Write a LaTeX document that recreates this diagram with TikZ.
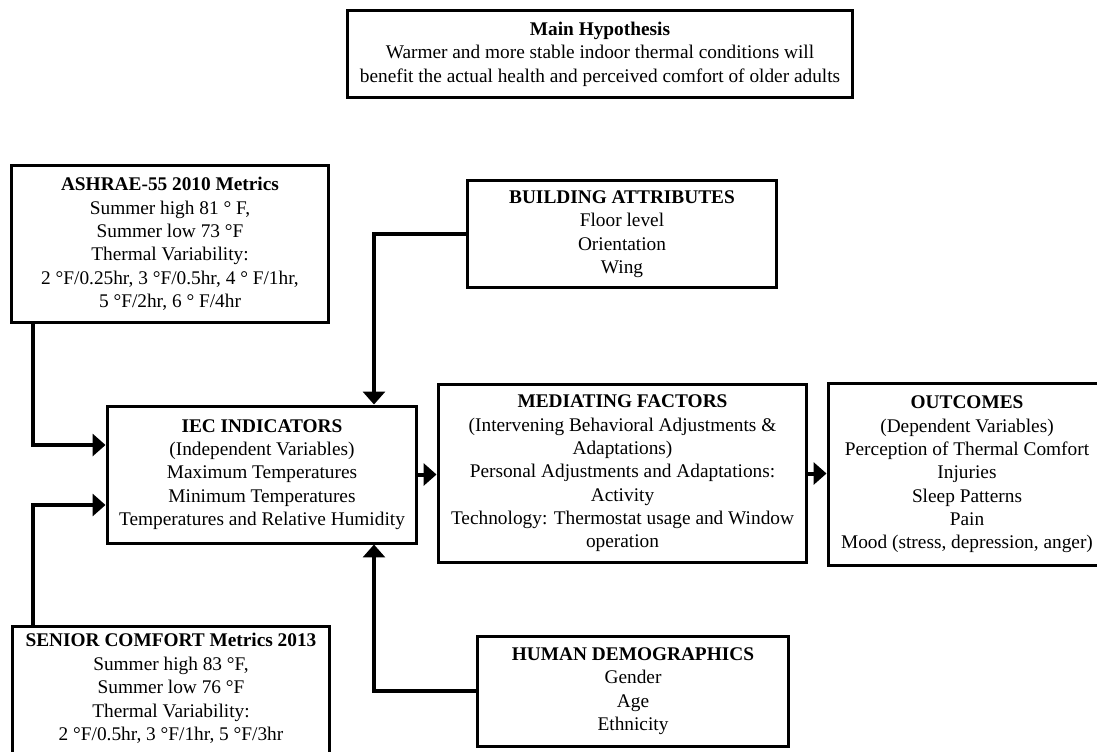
\documentclass[tikz,border=0pt]{standalone}
\usepackage{fontspec}
\setmainfont{Liberation Serif}
\usepackage{tikz}
\usetikzlibrary{arrows.meta, positioning, calc}

\begin{document}
\begin{tikzpicture}[
    x=0.02cm, y=-0.02cm,
    box/.style = {rectangle, draw=black, line width=0.06cm, fill=white, align=center, font=\fontsize{11pt}{13.3pt}\selectfont, inner sep=4pt},
    conn/.style = {line width=0.08cm, -{Triangle[width=0.44cm, length=0.26cm]}}
]
\useasboundingbox (0,0) rectangle (1097,751);

% Hypothesis
\node (hyp) [box, minimum width=10.12cm, minimum height=1.76cm] at (600,54) {\textbf{Main Hypothesis}\\Warmer and more stable indoor thermal conditions will\\benefit the actual health and perceived comfort of older adults};

% Metrics
\node (ashrae) [box, minimum width=6.36cm, minimum height=3.16cm] at (170,244) {\textbf{ASHRAE-55 2010 Metrics}\\Summer high 81 ° F,\\Summer low 73 °F\\Thermal Variability:\\2 °F/0.25hr, 3 °F/0.5hr, 4 ° F/1hr,\\5 °F/2hr, 6 ° F/4hr};
\node (senior) [box, minimum width=6.36cm, anchor=north] at (171,625) {\textbf{SENIOR COMFORT Metrics 2013}\\Summer high 83 °F,\\Summer low 76 °F\\Thermal Variability:\\2 °F/0.5hr, 3 °F/1hr, 5 °F/3hr\\\mbox{}};

% Attributes and demographics
\node (bldg) [box, minimum width=6.2cm, minimum height=2.16cm] at (622,234) {\textbf{BUILDING ATTRIBUTES}\\Floor level\\Orientation\\Wing};
\node (hum) [box, minimum width=6.24cm, minimum height=2.2cm] at (633,691) {\textbf{HUMAN DEMOGRAPHICS}\\Gender\\Age\\Ethnicity};

% Main chain
\node (iec) [box, minimum width=6.2cm, minimum height=2.74cm] at (262,474.5) {\textbf{IEC INDICATORS}\\(Independent Variables)\\Maximum Temperatures\\Minimum Temperatures\\Temperatures and Relative Humidity};
\node (med) [box, minimum width=7.38cm, minimum height=3.58cm] at (622.5,473.5) {\textbf{MEDIATING FACTORS}\\(Intervening Behavioral Adjustments \&\\Adaptations)\\Personal Adjustments and Adaptations:\\Activity\\Technology: Thermostat usage and Window\\operation};
\node (out) [box, minimum width=5.56cm, minimum height=3.66cm] at (967,474.5) {\textbf{OUTCOMES}\\(Dependent Variables)\\Perception of Thermal Comfort\\Injuries\\Sleep Patterns\\Pain\\Mood (stress, depression, anger)};

% Connectors
\draw [conn] ([xshift=0.46cm]ashrae.south west) |- ([yshift=0.59cm]iec.west);
\draw [conn] ([xshift=0.44cm]senior.north west) |- ([yshift=-0.61cm]iec.west);
\draw [conn] (bldg.west) -| ([xshift=2.24cm]iec.north);
\draw [conn] (hum.west) -| ([xshift=2.24cm]iec.south);
\draw [conn] (iec.east) -- (iec.east -| med.west);
\draw [conn] (med.east) -- (med.east -| out.west);

\end{tikzpicture}
\end{document}
